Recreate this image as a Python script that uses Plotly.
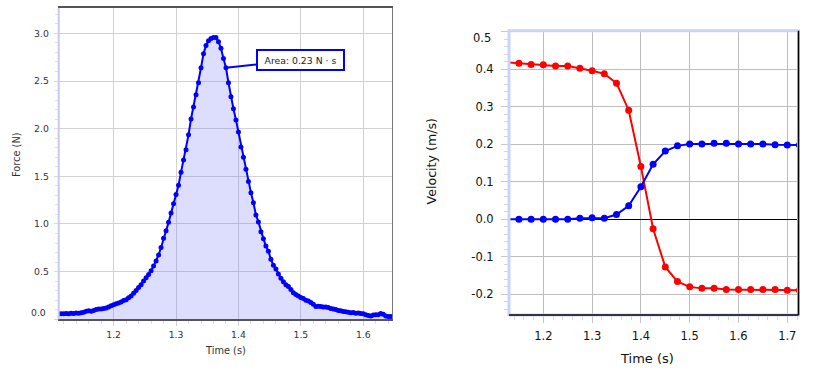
import plotly.graph_objects as go

# ---------------- data ----------------
# Force sensor samples (left chart)
force_t0 = 1.112          # time of first sample (s)
force_dt = 0.004          # sample interval (s)
force_values = [
    0.059, 0.059, 0.057, 0.061, 0.059, 0.064, 0.061, 0.067, 0.063, 0.069,
    0.074, 0.084, 0.089, 0.084, 0.093, 0.103, 0.108, 0.108, 0.113, 0.118,
    0.128, 0.142, 0.152, 0.162, 0.172, 0.181, 0.196, 0.206, 0.225, 0.245,
    0.274, 0.303, 0.333, 0.362, 0.401, 0.435, 0.470, 0.509, 0.558, 0.611,
    0.675, 0.753, 0.851, 0.929, 1.017, 1.114, 1.212, 1.310, 1.407, 1.544,
    1.671, 1.779, 1.935, 2.101, 2.228, 2.355, 2.482, 2.639, 2.785, 2.873,
    2.922, 2.946, 2.956, 2.956, 2.912, 2.844, 2.736, 2.639, 2.482, 2.336,
    2.209, 2.091, 1.964, 1.808, 1.701, 1.574, 1.447, 1.329, 1.222, 1.095,
    1.022, 0.919, 0.846, 0.769, 0.714, 0.629, 0.567, 0.528, 0.474, 0.430,
    0.394, 0.362, 0.343, 0.313, 0.279, 0.260, 0.245, 0.230, 0.219, 0.201,
    0.191, 0.176, 0.157, 0.133, 0.137, 0.133, 0.128, 0.130, 0.123, 0.113,
    0.108, 0.103, 0.093, 0.089, 0.081, 0.079, 0.074, 0.069, 0.071, 0.064,
    0.067, 0.061, 0.057, 0.049, 0.040, 0.035, 0.045, 0.048, 0.049, 0.061,
    0.054, 0.035, 0.030, 0.030,
]
force_time = [round(force_t0 + i * force_dt, 4) for i in range(len(force_values))]
area_label = "Area: 0.23 N · s"
area_point_index = 67

# Velocity samples (right chart)
vel_time = [1.125, 1.15, 1.175, 1.2, 1.225, 1.25, 1.275, 1.3, 1.325, 1.35,
            1.375, 1.4, 1.425, 1.45, 1.475, 1.5, 1.525, 1.55, 1.575, 1.6,
            1.625, 1.65, 1.675, 1.7, 1.725]
vel_red = [0.419, 0.416, 0.413, 0.412, 0.409, 0.409, 0.403, 0.396, 0.388, 0.363,
           0.291, 0.141, -0.025, -0.127, -0.166, -0.180, -0.184, -0.184, -0.187, -0.187,
           -0.187, -0.187, -0.187, -0.189, -0.189]
vel_blue = [0.0, 0.0, 0.0, 0.0, 0.0, 0.0, 0.003, 0.004, 0.003, 0.013,
            0.036, 0.087, 0.147, 0.182, 0.196, 0.201, 0.201, 0.203, 0.203, 0.201,
            0.201, 0.201, 0.199, 0.198, 0.198]

# tick labels
force_x_ticks = [1.2, 1.3, 1.4, 1.5, 1.6]
force_x_ticktext = ["1.2", "1.3", "1.4", "1.5", "1.6"]
force_y_ticks = [0.0, 0.5, 1.0, 1.5, 2.0, 2.5, 3.0]
force_y_ticktext = ["", "0.5", "1.0", "1.5", "2.0", "2.5", "3.0"]
vel_x_ticks = [1.2, 1.3, 1.4, 1.5, 1.6, 1.7]
vel_x_ticktext = ["1.2", "1.3", "1.4", "1.5", "1.6", "1.7"]
vel_y_ticks = [-0.2, -0.1, 0.0, 0.1, 0.2, 0.3, 0.4, 0.5]
vel_y_ticktext = ["-0.2", "-0.1", "0.0", "0.1", "0.2", "0.3", "0.4", ""]

# ---------------- layout helpers ----------------
W, H = 819, 373
FONT = "DejaVu Sans"


def px(x):
    return x / W


def py(y):
    return 1 - y / H


fig = go.Figure()

fig.add_trace(go.Scatter(
    x=force_time, y=force_values, mode="lines+markers",
    line=dict(color="#0000ff", width=2),
    marker=dict(color="#0000ff", size=5),
    fill="tozeroy", fillcolor="rgba(100,100,245,0.22)",
    xaxis="x", yaxis="y", showlegend=False, hoverinfo="skip",
))

fig.add_trace(go.Scatter(
    x=vel_time, y=vel_red, mode="lines+markers",
    line=dict(color="#ff0000", width=2),
    marker=dict(color="#ff0000", size=7),
    xaxis="x2", yaxis="y2", showlegend=False,
))
fig.add_trace(go.Scatter(
    x=vel_time, y=vel_blue, mode="lines+markers",
    line=dict(color="#0000ff", width=2),
    marker=dict(color="#0000ff", size=7),
    xaxis="x2", yaxis="y2", showlegend=False,
))

left_grid = "#d2d2d2"
right_grid = "#bdbdbd"

fig.update_layout(
    width=W, height=H,
    margin=dict(l=0, r=0, t=0, b=0, autoexpand=False),
    paper_bgcolor="white", plot_bgcolor="white",
    font=dict(family=FONT, color="#333"),
    xaxis=dict(
        domain=[px(58.7), px(392)], range=[1.112, 1.646], anchor="y", automargin=False,
        tickmode="array", tickvals=force_x_ticks, ticktext=force_x_ticktext,
        tickfont=dict(size=9.3, color="#333"),
        showgrid=True, gridcolor=left_grid, gridwidth=1,
        zeroline=False, showline=True, linecolor="#555", linewidth=1.5, mirror=True,
        ticks="outside", ticklen=5, tickcolor="#d0d0d0", ticklabelstandoff=1,
        minor=dict(dtick=0.02, tick0=1.0, ticks="outside", ticklen=3, tickcolor="#dadada", showgrid=False),
    ),
    yaxis=dict(
        domain=[py(319.3), py(8)], range=[0, 3.266], anchor="x", automargin=False,
        tickmode="array", tickvals=force_y_ticks, ticktext=force_y_ticktext,
        tickfont=dict(size=9.3, color="#333"),
        showgrid=True, gridcolor=left_grid, gridwidth=1,
        zeroline=False, showline=True, linecolor="#777", linewidth=1, mirror=True,
        ticks="outside", ticklen=4, tickcolor="#dadada", ticklabelstandoff=3,
        minor=dict(dtick=0.1, tick0=0, ticks="outside", ticklen=3, tickcolor="#e2e2e2", showgrid=False),
    ),
    xaxis2=dict(
        domain=[px(509), px(798.5)], range=[1.1297, 1.723], anchor="y2", automargin=False,
        tickmode="array", tickvals=vel_x_ticks, ticktext=vel_x_ticktext,
        tickfont=dict(size=11.5, color="#111"),
        showgrid=True, gridcolor=right_grid, gridwidth=1,
        zeroline=False, showline=False,
        ticks="outside", ticklen=7, tickcolor="#c8c8c8", ticklabelstandoff=3,
        minor=dict(dtick=0.02, tick0=1.0, ticks="outside", ticklen=4, tickcolor="#d6d6d6", showgrid=False),
    ),
    yaxis2=dict(
        domain=[py(315), py(30.7)], range=[-0.255, 0.503], anchor="x2", automargin=False,
        tickmode="array", tickvals=vel_y_ticks, ticktext=vel_y_ticktext,
        tickfont=dict(size=11.5, color="#111"),
        showgrid=True, gridcolor=right_grid, gridwidth=1,
        zeroline=True, zerolinecolor="#000", zerolinewidth=1, showline=False,
        ticks="outside", ticklen=7, tickcolor="#c8c8c8", ticklabelstandoff=5,
        minor=dict(dtick=0.02, tick0=0, ticks="outside", ticklen=4, tickcolor="#d6d6d6", showgrid=False),
    ),
)

# frames
fig.add_shape(type="line", xref="x domain", yref="y domain", x0=0, x1=0, y0=0, y1=1,
              line=dict(color="#c4cbf3", width=2))
fig.add_shape(type="rect", xref="x2 domain", yref="y2 domain", x0=0, x1=1, y0=0, y1=1,
              line=dict(color="#c9d5f7", width=3))
fig.add_shape(type="line", xref="x2 domain", yref="y2 domain", x0=0, x1=1, y0=0, y1=0,
              line=dict(color="#000", width=1.5))
fig.add_shape(type="line", xref="x2 domain", yref="y2 domain", x0=1, x1=1, y0=0, y1=1,
              line=dict(color="#000", width=1.5))

# area annotation
fig.add_annotation(
    x=force_time[area_point_index], y=force_values[area_point_index], xref="x", yref="y",
    text=area_label, showarrow=True, arrowhead=0, arrowwidth=2, arrowcolor="#0000ff",
    ax=75, ay=-8, axref="pixel", ayref="pixel",
    width=80, height=13,
    font=dict(family=FONT, size=9.3, color="#222"),
    bgcolor="white", bordercolor="#0000ff", borderwidth=2, borderpad=2.5,
)

# edge tick labels kept inside the plot (as in the reference)
fig.add_annotation(x=px(48.3), y=py(312.7), xref="paper", yref="paper", text="0.0",
                   showarrow=False, xanchor="right", yanchor="middle",
                   font=dict(family=FONT, size=9.3, color="#333"))
fig.add_annotation(x=px(493.3), y=py(38.3), xref="paper", yref="paper", text="0.5",
                   showarrow=False, xanchor="right", yanchor="middle",
                   font=dict(family=FONT, size=11.5, color="#111"))

# axis titles
fig.add_annotation(x=px(225), y=py(350), xref="paper", yref="paper", text="Time (s)",
                   showarrow=False, xanchor="center", yanchor="middle",
                   font=dict(family=FONT, size=9.8, color="#333"))
fig.add_annotation(x=px(16), y=py(155), xref="paper", yref="paper", text="Force (N)",
                   showarrow=False, xanchor="center", yanchor="middle", textangle=-90,
                   font=dict(family=FONT, size=9.8, color="#333"))
fig.add_annotation(x=px(646.7), y=py(358.3), xref="paper", yref="paper", text="Time (s)",
                   showarrow=False, xanchor="center", yanchor="middle",
                   font=dict(family=FONT, size=13, color="#111"))
fig.add_annotation(x=px(431.7), y=py(161.7), xref="paper", yref="paper", text="Velocity (m/s)",
                   showarrow=False, xanchor="center", yanchor="middle", textangle=-90,
                   font=dict(family=FONT, size=12.6, color="#111"))

fig.write_html(
    "out.html",
    config={"displayModeBar": False},
    post_script="document.body.style.margin='0px';document.body.style.overflow='hidden';",
)
